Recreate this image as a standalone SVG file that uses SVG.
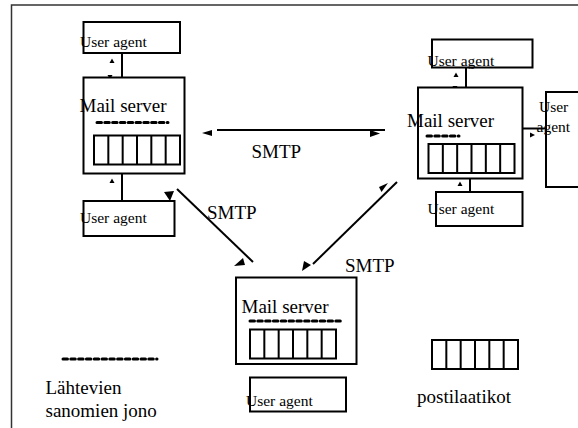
<svg xmlns="http://www.w3.org/2000/svg" xmlns:xlink="http://www.w3.org/1999/xlink" width="578" height="428" viewBox="0 0 578 428">
<style>
.box{fill:#fff;stroke:#000;stroke-width:2}
.ln{stroke:#000;stroke-width:2;fill:none}
.q{stroke:#000;stroke-width:3;stroke-dasharray:4.5 3.3;stroke-linecap:round;fill:none}
.ah{fill:#000;stroke:none}
text{font-family:'Liberation Serif','DejaVu Serif','Times New Roman',serif;fill:#000}
.big{font-size:19px}
.ua{font-size:15.5px}
</style>
<defs>
<g id="mb">
<rect x="0" y="0" width="86" height="29" fill="#fff" stroke="#000" stroke-width="2"/>
<path d="M14.33 0V29M28.67 0V29M43 0V29M57.33 0V29M71.67 0V29" stroke="#000" stroke-width="2"/>
</g>
<polygon id="up" points="-2.5,2 2.5,2 0,-2.5"/>
<polygon id="dn" points="-2.5,-2 2.5,-2 0,2.5"/>
</defs>
<rect x="11.5" y="5" width="620" height="500" fill="none" stroke="#333" stroke-width="1.5"/>

<g id="connectors">
<line class="ln" x1="122" y1="53" x2="122" y2="77"/>
<use xlink:href="#up" x="112" y="61" class="ah"/>
<use xlink:href="#dn" x="110" y="77" class="ah"/>
<line class="ln" x1="122" y1="174" x2="122" y2="201"/>
<use xlink:href="#up" x="112" y="181" class="ah"/>
<use xlink:href="#dn" x="110" y="202" class="ah"/>
<line class="ln" x1="466" y1="68" x2="466" y2="87"/>
<use xlink:href="#up" x="456" y="75" class="ah"/>
<use xlink:href="#dn" x="455" y="88" class="ah"/>
<line class="ln" x1="470" y1="178" x2="470" y2="192"/>
<use xlink:href="#up" x="460" y="184" class="ah"/>
<use xlink:href="#dn" x="459" y="198" class="ah"/>
<line class="ln" x1="523" y1="128.5" x2="546" y2="128.5"/>
<polygon class="ah" points="512,133 517,130.5 517,135.5"/>
<polygon class="ah" points="535,135 530,132.5 530,137.5"/>
<line class="ln" x1="217" y1="130" x2="385" y2="130"/>
<polygon class="ah" points="202,133 212,130 212,136"/>
<polygon class="ah" points="380,133.5 370,130 370,137"/>
<line class="ln" x1="177" y1="189" x2="253" y2="262"/>
<polygon class="ah" points="164,192 174,191 170,201"/>
<polygon class="ah" points="243,258 234,266 245,265"/>
<line class="ln" x1="397" y1="182" x2="313" y2="264"/>
<polygon class="ah" points="379,187 388,183 381.5,192"/>
<polygon class="ah" points="302,271 304,261 311,265"/>
</g>

<g id="ua-top-left">
<rect class="box" x="83.5" y="22" width="96.5" height="31"/>
<text class="ua" x="80" y="46.5" font-family="Liberation Serif, serif">User agent</text>
</g>
<g id="ms-left">
<rect class="box" x="83.5" y="77.5" width="101" height="96"/>
<text class="big" x="79.5" y="112" font-family="Liberation Serif, serif">Mail server</text>
<line class="q" x1="97" y1="122.5" x2="168" y2="122.5"/>
<use xlink:href="#mb" x="94" y="135.5"/>
</g>
<g id="ua-bottom-left">
<rect class="box" x="83.5" y="201" width="91" height="35"/>
<text class="ua" x="80" y="223" font-family="Liberation Serif, serif">User agent</text>
</g>

<g id="ua-top-right">
<rect class="box" x="432" y="39.5" width="100.5" height="28"/>
<text class="ua" x="427.5" y="65.5" font-family="Liberation Serif, serif">User agent</text>
</g>
<g id="ms-right">
<rect class="box" x="418" y="87.5" width="104.5" height="91"/>
<text class="big" x="407" y="126.5" font-family="Liberation Serif, serif">Mail server</text>
<line class="q" x1="427" y1="136" x2="459" y2="136"/>
<use xlink:href="#mb" x="428.5" y="144"/>
</g>
<g id="ua-right">
<rect class="box" x="546" y="92" width="60" height="95"/>
<text class="ua" x="539" y="112" font-family="Liberation Serif, serif">User</text>
<text class="ua" x="536.5" y="132" font-family="Liberation Serif, serif">agent</text>
</g>
<g id="ua-bottom-right">
<rect class="box" x="436" y="192" width="86.5" height="34"/>
<text class="ua" x="427.5" y="213.5" font-family="Liberation Serif, serif">User agent</text>
</g>

<g id="ms-center">
<rect class="box" x="236" y="277.5" width="120.5" height="86.5"/>
<text class="big" x="241.5" y="313" font-family="Liberation Serif, serif">Mail server</text>
<line class="q" x1="250" y1="321" x2="343.5" y2="321"/>
<use xlink:href="#mb" x="250" y="329.5"/>
</g>
<g id="ua-center">
<rect class="box" x="250" y="377.5" width="96" height="34"/>
<text class="ua" x="246" y="405.5" font-family="Liberation Serif, serif">User agent</text>
</g>

<g id="labels">
<text class="big" x="251.5" y="158" font-family="Liberation Serif, serif">SMTP</text>
<text class="big" x="207" y="219" font-family="Liberation Serif, serif">SMTP</text>
<text class="big" x="345" y="272" font-family="Liberation Serif, serif">SMTP</text>
</g>

<g id="legend-queue">
<line class="q" x1="63" y1="359" x2="157" y2="359"/>
<text class="big" x="45.5" y="394" font-family="Liberation Serif, serif">Lähtevien</text>
<text class="big" x="45.5" y="417" font-family="Liberation Serif, serif">sanomien jono</text>
</g>
<g id="legend-mailbox">
<use xlink:href="#mb" x="432" y="340"/>
<text class="big" x="417" y="403" font-family="Liberation Serif, serif">postilaatikot</text>
</g>
</svg>
